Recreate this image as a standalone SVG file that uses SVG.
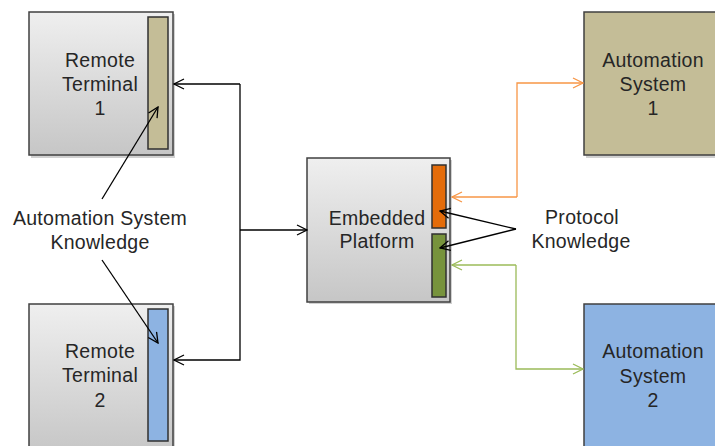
<svg xmlns="http://www.w3.org/2000/svg" width="715" height="446" viewBox="0 0 715 446">
<style>
text{font-family:"Liberation Sans",Arial,sans-serif;font-size:19.5px;fill:#262626;text-anchor:middle;letter-spacing:0.3px}
.box{stroke:#404040;stroke-width:1.5}
.shadow{fill:#000;opacity:0.18}
.bar{stroke:#303030;stroke-width:1.5}
.c{fill:none;stroke:#000;stroke-width:1.3}
</style>
<defs>
<linearGradient id="g" x1="0" y1="0" x2="0" y2="1">
<stop offset="0" stop-color="#efefef"/>
<stop offset="1" stop-color="#c6c6c6"/>
</linearGradient>
<marker id="ab" viewBox="0 0 12 12" refX="11" refY="6" markerWidth="12" markerHeight="12" markerUnits="userSpaceOnUse" orient="auto">
<path d="M1,1 L11,6 L1,11" fill="none" stroke="#000" stroke-width="1.3"/>
</marker>
<marker id="ao" viewBox="0 0 12 12" refX="11" refY="6" markerWidth="12" markerHeight="12" markerUnits="userSpaceOnUse" orient="auto">
<path d="M1,1 L11,6 L1,11" fill="none" stroke="#f79646" stroke-width="1.3"/>
</marker>
<marker id="ag" viewBox="0 0 12 12" refX="11" refY="6" markerWidth="12" markerHeight="12" markerUnits="userSpaceOnUse" orient="auto">
<path d="M1,1 L11,6 L1,11" fill="none" stroke="#9bbb59" stroke-width="1.3"/>
</marker>
</defs>

<g id="remote1">
<rect class="shadow" x="31" y="14" width="144" height="144"/>
<rect class="box" x="29" y="12" width="144" height="143" fill="url(#g)"/>
<rect class="bar" x="148" y="17" width="20" height="132" fill="#c4bd97"/>
<text x="100" y="67">Remote</text>
<text x="100" y="91">Terminal</text>
<text x="100" y="115">1</text>
</g>

<g id="remote2">
<rect class="shadow" x="31" y="306" width="144" height="150"/>
<rect class="box" x="29" y="304" width="144" height="150" fill="url(#g)"/>
<rect class="bar" x="148" y="309" width="20" height="132" fill="#8db3e2"/>
<text x="100" y="358">Remote</text>
<text x="100" y="382">Terminal</text>
<text x="100" y="407">2</text>
</g>

<g id="embedded">
<rect class="shadow" x="309" y="160" width="143" height="144"/>
<rect class="box" x="307" y="158" width="143" height="144" fill="url(#g)"/>
<rect class="bar" x="432" y="165" width="14" height="63" fill="#e46c0a"/>
<rect class="bar" x="432" y="234" width="14" height="63" fill="#77933c"/>
<text x="377" y="225">Embedded</text>
<text x="377" y="248">Platform</text>
</g>

<g id="auto1">
<rect class="shadow" x="586" y="14" width="140" height="144"/>
<rect class="box" x="584" y="12" width="140" height="143" fill="#c4bd97"/>
<text x="653" y="67">Automation</text>
<text x="653" y="91">System</text>
<text x="653" y="115">1</text>
</g>

<g id="auto2">
<rect class="shadow" x="586" y="306" width="140" height="150"/>
<rect class="box" x="584" y="304" width="140" height="150" fill="#8db3e2"/>
<text x="653" y="358">Automation</text>
<text x="653" y="383">System</text>
<text x="653" y="407">2</text>
</g>

<g id="labels">
<text x="100" y="225">Automation System</text>
<text x="100" y="249">Knowledge</text>
<text x="582" y="224">Protocol</text>
<text x="581" y="248">Knowledge</text>
</g>

<g id="connectors">
<path class="c" d="M240,84 L174,84" marker-end="url(#ab)"/>
<path class="c" d="M240,84 L240,360 L174,360" marker-end="url(#ab)"/>
<path class="c" d="M240,230 L307,230" marker-end="url(#ab)"/>
<path class="c" style="stroke:#f79646" d="M517,197 L517,83 L583,83" marker-end="url(#ao)"/>
<path class="c" style="stroke:#f79646" d="M517,197 L452,197" marker-end="url(#ao)"/>
<path class="c" style="stroke:#9bbb59" d="M516,265 L516,369 L583,369" marker-end="url(#ag)"/>
<path class="c" style="stroke:#9bbb59" d="M516,265 L452,265" marker-end="url(#ag)"/>
<path class="c" d="M102,199 L158,107" marker-end="url(#ab)"/>
<path class="c" d="M102,260 L158,343" marker-end="url(#ab)"/>
<path class="c" d="M516,229 L440,211" marker-end="url(#ab)"/>
<path class="c" d="M516,229 L440,248" marker-end="url(#ab)"/>
</g>
</svg>
